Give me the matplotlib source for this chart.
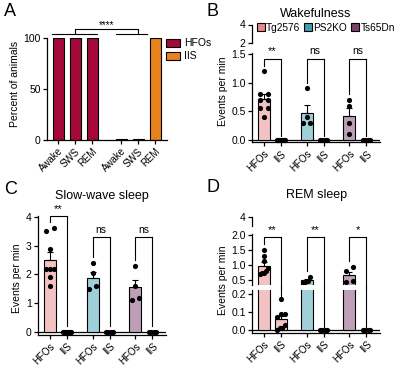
import matplotlib
matplotlib.use('Agg')
import matplotlib.pyplot as plt
import numpy as np
from matplotlib.patches import Patch
from matplotlib.lines import Line2D

plt.rcParams['font.family'] = ['Liberation Sans', 'DejaVu Sans']
plt.rcParams['axes.linewidth'] = 0.9
plt.rcParams['xtick.major.width'] = 0.9
plt.rcParams['ytick.major.width'] = 0.9
plt.rcParams['xtick.major.size'] = 3
plt.rcParams['ytick.major.size'] = 3
plt.rcParams['xtick.major.pad'] = 1.5
plt.rcParams['ytick.major.pad'] = 1.5

# ---------------- data ----------------
# Panel A
state_labels = ['Awake', 'SWS', 'REM']
hfo_percent = [100, 100, 100]
iis_percent = [1, 1, 100]
sig_A = '****'

strains = ['Tg2576', 'PS2KO', 'Ts65Dn']
event_labels = ['HFOs', 'IIS']

# Panel B - Wakefulness (events per min)
wake_hfo_tg = [1.2, 0.8, 0.8, 0.7, 0.7, 0.55, 0.55, 0.4]
wake_iis_tg = [0, 0, 0, 0, 0, 0, 0, 0]
wake_hfo_ps = [0.9, 0.4, 0.3, 0.3]
wake_iis_ps = [0, 0, 0, 0]
wake_hfo_ts = [0.7, 0.6, 0.3, 0.1]
wake_iis_ts = [0, 0, 0, 0]
wake_sig = ['**', 'ns', 'ns']

# Panel C - Slow-wave sleep
sws_hfo_tg = [3.5, 3.6, 2.9, 2.2, 2.2, 2.2, 1.9, 1.6]
sws_iis_tg = [0, 0, 0, 0, 0, 0, 0, 0]
sws_hfo_ps = [2.4, 2.05, 1.5, 1.6]
sws_iis_ps = [0, 0, 0, 0]
sws_hfo_ts = [2.3, 1.6, 1.1, 1.2]
sws_iis_ts = [0, 0, 0, 0]
sws_sig = ['**', 'ns', 'ns']

# Panel D - REM sleep
rem_hfo_tg = [1.5, 1.3, 1.15, 0.9, 0.8, 0.75, 0.75, 0.7]
rem_iis_tg = [0.17, 0.09, 0.09, 0.07, 0.03, 0.01, 0.01, 0.0]
rem_hfo_ps = [0.6, 0.47, 0.45, 0.42]
rem_iis_ps = [0, 0, 0, 0]
rem_hfo_ts = [0.92, 0.8, 0.45, 0.47]
rem_iis_ts = [0, 0, 0, 0]
rem_sig = ['**', '**', '*']

# ---------------- style ----------------
hfo_color = '#A5093A'
iis_color = '#E8821E'
strain_colors = ['#E8868A', '#3E9FB3', '#7E3F6E']

def lighten(c, a=0.5):
    r = np.array(matplotlib.colors.to_rgb(c))
    return tuple(1 - a * (1 - r))

strain_light = [lighten(c, 0.5) for c in strain_colors]

TICK_FS = 7.5
LABEL_FS = 7.5

W, H = 400, 366
fig = plt.figure(figsize=(W / 100, H / 100), dpi=100)

def ax_px(left, top, right, bottom):
    return fig.add_axes([left / W, 1 - bottom / H, (right - left) / W, (bottom - top) / H])

def ftext(x, y, s, **kw):
    fig.text(x / W, 1 - y / H, s, **kw)

def style(ax, bottom=True):
    ax.spines['top'].set_visible(False)
    ax.spines['right'].set_visible(False)
    if not bottom:
        ax.spines['bottom'].set_visible(False)
        ax.tick_params(axis='x', bottom=False, labelbottom=False)
    ax.tick_params(labelsize=TICK_FS)
    ax.patch.set_alpha(0)

# ---------------- Panel A ----------------
axA = ax_px(47, 38, 167, 140)
style(axA)
posA_h = [0, 1, 2]
posA_i = [3.7, 4.7, 5.7]
axA.bar(posA_h, hfo_percent, width=0.65, color=hfo_color, edgecolor='black', linewidth=0.8)
axA.bar(posA_i, iis_percent, width=0.65, color=iis_color, edgecolor='black', linewidth=0.8)
axA.set_xlim(-0.65, 6.4)
axA.set_ylim(0, 100)
axA.set_yticks([0, 50, 100])
axA.set_xticks(posA_h + posA_i)
axA.set_xticklabels(state_labels * 2, rotation=45, ha='right', rotation_mode='anchor', fontsize=7)
# significance bracket
lw = 0.8
axA.plot([-0.35, 2.3], [104, 104], color='black', lw=lw, clip_on=False)
axA.plot([3.4, 5.2], [104, 104], color='black', lw=lw, clip_on=False)
axA.plot([1, 1, 4.7, 4.7], [104, 109, 109, 104], color='black', lw=lw, clip_on=False)
axA.text(2.85, 113, sig_A, ha='center', va='center', fontsize=7, clip_on=False)
ftext(15, 84, 'Percent of animals', rotation=90, ha='center', va='center', fontsize=LABEL_FS)
fig.legend(handles=[Patch(facecolor=hfo_color, edgecolor='black', lw=0.8, label='HFOs'),
                    Patch(facecolor=iis_color, edgecolor='black', lw=0.8, label='IIS')],
           loc='upper left', bbox_to_anchor=(161 / W, 1 - 33 / H), frameon=False, fontsize=7.5,
           borderpad=0, handlelength=1.3, handleheight=0.8, handletextpad=0.4, labelspacing=0.3)

# ---------------- helpers for strain panels ----------------
pos_h = [0, 2.5, 5]
pos_i = [1, 3.5, 6]
XLIM = (-0.7, 6.8)

def swarm(vals, tol, spread=0.22):
    vals = np.asarray(vals, float)
    offs = np.zeros(len(vals))
    order = np.argsort(vals)
    clusters = []
    for i in order:
        if clusters and abs(vals[i] - vals[clusters[-1][-1]]) <= tol:
            clusters[-1].append(i)
        else:
            clusters.append([i])
    for c in clusters:
        if len(c) > 1:
            offs[c] = np.linspace(-spread, spread, len(c))
    return offs

def draw_group(ax, pos, vals, color, tol, points=True, err=True):
    v = np.asarray(vals, float)
    m = v.mean()
    sem = v.std(ddof=1) / np.sqrt(len(v))
    ax.bar(pos, m, width=0.7, color=color, edgecolor='black', linewidth=0.8, zorder=2)
    if err and sem > 0:
        ax.errorbar(pos, m, yerr=[[0], [sem]], color='black', capsize=2.2, lw=0.8,
                    capthick=0.8, zorder=3)
    if points:
        ax.scatter(pos + swarm(v, tol), v, s=14, color='black', zorder=4, clip_on=False,
                   linewidths=0)

def set_xt(ax):
    ax.set_xlim(*XLIM)
    ax.set_xticks(sorted(pos_h + pos_i))
    ax.set_xticklabels(event_labels * 3, rotation=45, ha='right', rotation_mode='anchor',
                       fontsize=7)

def bracket(ax, x1, x2, ytop, yl, yr, text, dy, ax_r=None, yr_top=None, ymid_bot=None):
    ax.plot([x1, x1, x2], [yl, ytop, ytop], color='black', lw=0.8, clip_on=False, zorder=5)
    if ax_r is None:
        ax.plot([x2, x2], [ytop, yr], color='black', lw=0.8, clip_on=False, zorder=5)
    else:
        ax.plot([x2, x2], [ytop, ymid_bot], color='black', lw=0.8, clip_on=False, zorder=5)
        ax_r.plot([x2, x2], [yr_top, yr], color='black', lw=0.8, clip_on=False, zorder=5)
    fs = 8 if '*' in text else 7.5
    ax.text((x1 + x2) / 2, ytop + dy, text, ha='center', va='bottom', fontsize=fs, clip_on=False)

# ---------------- Panel B ----------------
axB = ax_px(252, 52.9, 380, 142.3)
axBu = ax_px(252, 24.5, 380, 43)
style(axB)
style(axBu, bottom=False)
hB = [wake_hfo_tg, wake_hfo_ps, wake_hfo_ts]
iB = [wake_iis_tg, wake_iis_ps, wake_iis_ts]
for j in range(3):
    draw_group(axB, pos_h[j], hB[j], strain_light[j], 0.08)
    draw_group(axB, pos_i[j], iB[j], strain_light[j], 0.08)
axB.axhline(0, color='black', lw=0.9, zorder=1)
axB.set_ylim(-0.04, 1.52)
axB.set_yticks([0, 0.5, 1.0, 1.5])
axB.set_yticklabels(['0.0', '0.5', '1.0', '1.5'])
set_xt(axB)
axBu.set_xlim(*XLIM)
axBu.set_ylim(2, 4)
axBu.set_yticks([2, 4])
for j in range(3):
    bracket(axB, pos_h[j], pos_i[j], 1.42, max(hB[j]) + 0.1, max(iB[j]) + 0.07, wake_sig[j], 0.04)
ftext(223, 91, 'Events per min', rotation=90, ha='center', va='center', fontsize=LABEL_FS)
ftext(316, 14, 'Wakefulness', ha='center', va='center', fontsize=9)
fig.legend(handles=[Line2D([], [], marker='s', ls='none', markersize=6, mfc=c, mec='black',
                           mew=0.8, label=s) for c, s in zip(strain_colors, strains)],
           loc='center left', bbox_to_anchor=(257 / W, 1 - 28 / H), ncol=3, frameon=False,
           fontsize=7.3, borderpad=0, borderaxespad=0, handlelength=0.7, handletextpad=0.2,
           columnspacing=0.4)

# ---------------- Panel C ----------------
axC = ax_px(38, 216.1, 166, 334.9)
style(axC)
hC = [sws_hfo_tg, sws_hfo_ps, sws_hfo_ts]
iC = [sws_iis_tg, sws_iis_ps, sws_iis_ts]
for j in range(3):
    draw_group(axC, pos_h[j], hC[j], strain_light[j], 0.17)
    draw_group(axC, pos_i[j], iC[j], strain_light[j], 0.17)
axC.axhline(0, color='black', lw=0.9, zorder=1)
axC.set_ylim(-0.1, 4.03)
axC.set_yticks([0, 1, 2, 3, 4])
set_xt(axC)
topsC = [4.03, 3.3, 3.3]
for j in range(3):
    bracket(axC, pos_h[j], pos_i[j], topsC[j], max(hC[j]) + 0.22, max(iC[j]) + 0.2, sws_sig[j], 0.08)
ftext(17, 278, 'Events per min', rotation=90, ha='center', va='center', fontsize=LABEL_FS)
ftext(102, 196, 'Slow-wave sleep', ha='center', va='center', fontsize=9)

# ---------------- Panel D ----------------
axDu = ax_px(252, 217, 380, 226)
axDm = ax_px(252, 234.4, 380, 284.5)
axDl = ax_px(252, 290.4, 380, 333)
style(axDu, bottom=False)
style(axDm, bottom=False)
style(axDl)
hD = [rem_hfo_tg, rem_hfo_ps, rem_hfo_ts]
iD = [rem_iis_tg, rem_iis_ps, rem_iis_ts]
for j in range(3):
    draw_group(axDm, pos_h[j], hD[j], strain_light[j], 0.13)
    draw_group(axDl, pos_h[j], hD[j], strain_light[j], 0.13, points=False, err=False)
    draw_group(axDl, pos_i[j], iD[j], strain_light[j], 0.025)
axDl.axhline(0, color='black', lw=0.9, zorder=1)
axDu.set_xlim(*XLIM)
axDm.set_xlim(*XLIM)
axDu.set_ylim(3.5, 4.0)
axDu.set_yticks([4])
axDm.set_ylim(0.35, 2.02)
axDm.set_yticks([0.5, 1.0, 1.5, 2.0])
axDm.set_yticklabels(['0.5', '1.0', '1.5', '2.0'])
axDl.set_ylim(-0.017, 0.22)
axDl.set_yticks([0, 0.1, 0.2])
axDl.set_yticklabels(['0.0', '0.1', '0.2'])
set_xt(axDl)
for j in range(3):
    bracket(axDm, pos_h[j], pos_i[j], 1.93, max(hD[j]) + 0.2, max(iD[j]) + 0.015, rem_sig[j], 0.06,
            ax_r=axDl, yr_top=0.24, ymid_bot=0.25)
ftext(223, 280, 'Events per min', rotation=90, ha='center', va='center', fontsize=LABEL_FS)
ftext(317, 195, 'REM sleep', ha='center', va='center', fontsize=9)

# ---------------- panel letters ----------------
for x, y, s in [(4, 12, 'A'), (207, 11, 'B'), (4, 190, 'C'), (207, 187, 'D')]:
    ftext(x, y, s, ha='left', va='center', fontsize=13)

fig.savefig('out.png', dpi=100)
